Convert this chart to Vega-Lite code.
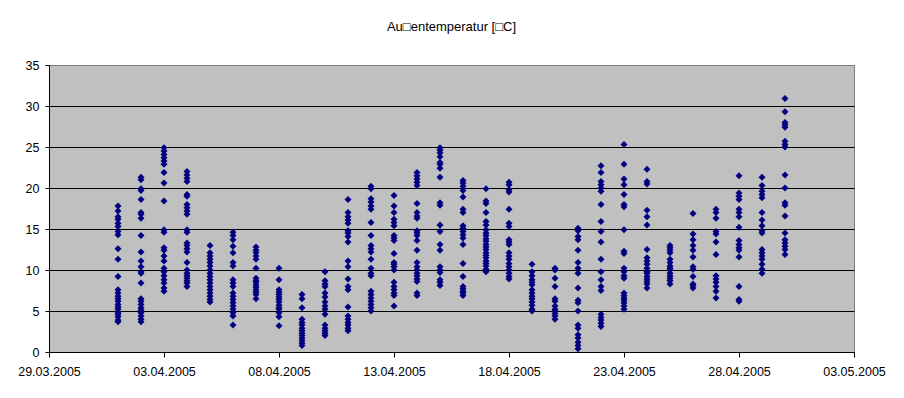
{
 "$schema": "https://vega.github.io/schema/vega-lite/v6.json",
 "width": 805, "height": 287,
 "autosize": {"type": "none"},
 "padding": {"left": 49, "top": 65, "right": 50, "bottom": 46},
 "background": "white",
 "title": {"text": "Au□entemperatur [□C]", "font": "Liberation Sans", "fontSize": 13, "fontWeight": "normal", "color": "black", "offset": 25, "anchor": "middle"},
 "config": {
  "view": {"fill": "#C0C0C0", "stroke": "#808080", "strokeWidth": 1},
  "axis": {"labelFont": "Liberation Sans", "labelFontSize": 12.5, "labelColor": "black", "domainColor": "black", "tickColor": "black", "domainWidth": 1, "tickWidth": 1, "labelFlush": false, "labelOverlap": false, "labelBound": false, "title": null}
 },
 "datasets": {"temps": [
{"d":"2005-04-01","t":17.8},{"d":"2005-04-01","t":17.2},{"d":"2005-04-01","t":16.5},{"d":"2005-04-01","t":16.2},{"d":"2005-04-01","t":15.7},{"d":"2005-04-01","t":15.3},{"d":"2005-04-01","t":14.7},{"d":"2005-04-01","t":14.3},{"d":"2005-04-01","t":12.6},{"d":"2005-04-01","t":11.3},{"d":"2005-04-01","t":9.2},{"d":"2005-04-01","t":7.6},{"d":"2005-04-01","t":7.2},{"d":"2005-04-01","t":6.8},{"d":"2005-04-01","t":6.5},{"d":"2005-04-01","t":6.2},{"d":"2005-04-01","t":5.8},{"d":"2005-04-01","t":5.5},{"d":"2005-04-01","t":5.2},{"d":"2005-04-01","t":4.8},{"d":"2005-04-01","t":4.6},{"d":"2005-04-01","t":4.3},{"d":"2005-04-01","t":3.9},{"d":"2005-04-01","t":3.7},
{"d":"2005-04-02","t":21.3},{"d":"2005-04-02","t":21.0},{"d":"2005-04-02","t":19.9},{"d":"2005-04-02","t":19.7},{"d":"2005-04-02","t":18.6},{"d":"2005-04-02","t":17.0},{"d":"2005-04-02","t":16.8},{"d":"2005-04-02","t":16.3},{"d":"2005-04-02","t":14.2},{"d":"2005-04-02","t":12.2},{"d":"2005-04-02","t":11.1},{"d":"2005-04-02","t":10.4},{"d":"2005-04-02","t":9.8},{"d":"2005-04-02","t":9.6},{"d":"2005-04-02","t":8.4},{"d":"2005-04-02","t":6.5},{"d":"2005-04-02","t":6.2},{"d":"2005-04-02","t":5.8},{"d":"2005-04-02","t":5.4},{"d":"2005-04-02","t":5.1},{"d":"2005-04-02","t":4.8},{"d":"2005-04-02","t":4.4},{"d":"2005-04-02","t":4.0},{"d":"2005-04-02","t":3.7},
{"d":"2005-04-03","t":24.9},{"d":"2005-04-03","t":24.5},{"d":"2005-04-03","t":24.1},{"d":"2005-04-03","t":23.7},{"d":"2005-04-03","t":23.3},{"d":"2005-04-03","t":22.9},{"d":"2005-04-03","t":21.9},{"d":"2005-04-03","t":20.6},{"d":"2005-04-03","t":18.4},{"d":"2005-04-03","t":14.9},{"d":"2005-04-03","t":14.6},{"d":"2005-04-03","t":12.7},{"d":"2005-04-03","t":12.4},{"d":"2005-04-03","t":11.7},{"d":"2005-04-03","t":11.1},{"d":"2005-04-03","t":10.2},{"d":"2005-04-03","t":9.8},{"d":"2005-04-03","t":9.3},{"d":"2005-04-03","t":8.8},{"d":"2005-04-03","t":8.4},{"d":"2005-04-03","t":7.8},{"d":"2005-04-03","t":7.4},
{"d":"2005-04-04","t":22.0},{"d":"2005-04-04","t":21.6},{"d":"2005-04-04","t":21.2},{"d":"2005-04-04","t":20.8},{"d":"2005-04-04","t":19.2},{"d":"2005-04-04","t":19.0},{"d":"2005-04-04","t":18.0},{"d":"2005-04-04","t":17.6},{"d":"2005-04-04","t":17.2},{"d":"2005-04-04","t":16.8},{"d":"2005-04-04","t":14.9},{"d":"2005-04-04","t":14.6},{"d":"2005-04-04","t":13.3},{"d":"2005-04-04","t":13.0},{"d":"2005-04-04","t":12.6},{"d":"2005-04-04","t":12.2},{"d":"2005-04-04","t":10.9},{"d":"2005-04-04","t":10.0},{"d":"2005-04-04","t":9.6},{"d":"2005-04-04","t":9.3},{"d":"2005-04-04","t":9.0},{"d":"2005-04-04","t":8.7},{"d":"2005-04-04","t":8.4},{"d":"2005-04-04","t":8.0},
{"d":"2005-04-05","t":13.0},{"d":"2005-04-05","t":12.1},{"d":"2005-04-05","t":11.7},{"d":"2005-04-05","t":11.3},{"d":"2005-04-05","t":10.9},{"d":"2005-04-05","t":10.5},{"d":"2005-04-05","t":10.0},{"d":"2005-04-05","t":9.6},{"d":"2005-04-05","t":9.2},{"d":"2005-04-05","t":8.8},{"d":"2005-04-05","t":8.4},{"d":"2005-04-05","t":8.0},{"d":"2005-04-05","t":7.6},{"d":"2005-04-05","t":7.2},{"d":"2005-04-05","t":6.8},{"d":"2005-04-05","t":6.4},{"d":"2005-04-05","t":6.1},
{"d":"2005-04-06","t":14.6},{"d":"2005-04-06","t":14.2},{"d":"2005-04-06","t":13.7},{"d":"2005-04-06","t":12.9},{"d":"2005-04-06","t":12.1},{"d":"2005-04-06","t":10.9},{"d":"2005-04-06","t":10.5},{"d":"2005-04-06","t":8.8},{"d":"2005-04-06","t":8.4},{"d":"2005-04-06","t":8.0},{"d":"2005-04-06","t":7.2},{"d":"2005-04-06","t":6.8},{"d":"2005-04-06","t":6.4},{"d":"2005-04-06","t":6.0},{"d":"2005-04-06","t":5.6},{"d":"2005-04-06","t":5.2},{"d":"2005-04-06","t":4.8},{"d":"2005-04-06","t":4.4},{"d":"2005-04-06","t":3.3},
{"d":"2005-04-07","t":12.8},{"d":"2005-04-07","t":12.4},{"d":"2005-04-07","t":12.1},{"d":"2005-04-07","t":11.7},{"d":"2005-04-07","t":11.3},{"d":"2005-04-07","t":10.2},{"d":"2005-04-07","t":9.0},{"d":"2005-04-07","t":8.7},{"d":"2005-04-07","t":8.5},{"d":"2005-04-07","t":8.2},{"d":"2005-04-07","t":7.9},{"d":"2005-04-07","t":7.6},{"d":"2005-04-07","t":7.3},{"d":"2005-04-07","t":7.0},{"d":"2005-04-07","t":6.5},
{"d":"2005-04-08","t":10.2},{"d":"2005-04-08","t":8.8},{"d":"2005-04-08","t":7.6},{"d":"2005-04-08","t":7.3},{"d":"2005-04-08","t":7.0},{"d":"2005-04-08","t":6.7},{"d":"2005-04-08","t":6.4},{"d":"2005-04-08","t":6.1},{"d":"2005-04-08","t":5.7},{"d":"2005-04-08","t":5.4},{"d":"2005-04-08","t":5.2},{"d":"2005-04-08","t":4.8},{"d":"2005-04-08","t":4.3},{"d":"2005-04-08","t":3.2},
{"d":"2005-04-09","t":7.0},{"d":"2005-04-09","t":6.5},{"d":"2005-04-09","t":5.4},{"d":"2005-04-09","t":4.0},{"d":"2005-04-09","t":3.6},{"d":"2005-04-09","t":3.3},{"d":"2005-04-09","t":2.9},{"d":"2005-04-09","t":2.6},{"d":"2005-04-09","t":2.3},{"d":"2005-04-09","t":2.0},{"d":"2005-04-09","t":1.7},{"d":"2005-04-09","t":1.4},{"d":"2005-04-09","t":1.1},{"d":"2005-04-09","t":0.8},
{"d":"2005-04-10","t":9.8},{"d":"2005-04-10","t":8.7},{"d":"2005-04-10","t":8.3},{"d":"2005-04-10","t":8.0},{"d":"2005-04-10","t":7.2},{"d":"2005-04-10","t":6.7},{"d":"2005-04-10","t":6.1},{"d":"2005-04-10","t":5.6},{"d":"2005-04-10","t":5.2},{"d":"2005-04-10","t":4.6},{"d":"2005-04-10","t":3.3},{"d":"2005-04-10","t":2.9},{"d":"2005-04-10","t":2.6},{"d":"2005-04-10","t":2.3},{"d":"2005-04-10","t":2.0},
{"d":"2005-04-11","t":18.6},{"d":"2005-04-11","t":17.0},{"d":"2005-04-11","t":16.5},{"d":"2005-04-11","t":16.1},{"d":"2005-04-11","t":15.7},{"d":"2005-04-11","t":14.8},{"d":"2005-04-11","t":14.5},{"d":"2005-04-11","t":14.1},{"d":"2005-04-11","t":13.4},{"d":"2005-04-11","t":11.1},{"d":"2005-04-11","t":10.4},{"d":"2005-04-11","t":8.9},{"d":"2005-04-11","t":8.0},{"d":"2005-04-11","t":7.6},{"d":"2005-04-11","t":5.5},{"d":"2005-04-11","t":4.4},{"d":"2005-04-11","t":4.0},{"d":"2005-04-11","t":3.6},{"d":"2005-04-11","t":3.3},{"d":"2005-04-11","t":2.9},{"d":"2005-04-11","t":2.6},
{"d":"2005-04-12","t":20.2},{"d":"2005-04-12","t":19.9},{"d":"2005-04-12","t":18.7},{"d":"2005-04-12","t":18.3},{"d":"2005-04-12","t":17.8},{"d":"2005-04-12","t":17.4},{"d":"2005-04-12","t":15.8},{"d":"2005-04-12","t":14.2},{"d":"2005-04-12","t":13.0},{"d":"2005-04-12","t":12.6},{"d":"2005-04-12","t":12.2},{"d":"2005-04-12","t":11.3},{"d":"2005-04-12","t":10.2},{"d":"2005-04-12","t":9.6},{"d":"2005-04-12","t":9.3},{"d":"2005-04-12","t":7.4},{"d":"2005-04-12","t":7.0},{"d":"2005-04-12","t":6.6},{"d":"2005-04-12","t":6.2},{"d":"2005-04-12","t":5.8},{"d":"2005-04-12","t":5.4},{"d":"2005-04-12","t":5.0},
{"d":"2005-04-13","t":19.1},{"d":"2005-04-13","t":17.8},{"d":"2005-04-13","t":17.0},{"d":"2005-04-13","t":16.2},{"d":"2005-04-13","t":15.8},{"d":"2005-04-13","t":15.4},{"d":"2005-04-13","t":14.2},{"d":"2005-04-13","t":13.9},{"d":"2005-04-13","t":13.6},{"d":"2005-04-13","t":12.0},{"d":"2005-04-13","t":10.9},{"d":"2005-04-13","t":10.7},{"d":"2005-04-13","t":10.4},{"d":"2005-04-13","t":10.0},{"d":"2005-04-13","t":8.5},{"d":"2005-04-13","t":8.0},{"d":"2005-04-13","t":7.6},{"d":"2005-04-13","t":7.2},{"d":"2005-04-13","t":6.9},{"d":"2005-04-13","t":5.6},
{"d":"2005-04-14","t":21.9},{"d":"2005-04-14","t":21.5},{"d":"2005-04-14","t":21.1},{"d":"2005-04-14","t":20.7},{"d":"2005-04-14","t":20.3},{"d":"2005-04-14","t":18.1},{"d":"2005-04-14","t":17.0},{"d":"2005-04-14","t":16.6},{"d":"2005-04-14","t":16.3},{"d":"2005-04-14","t":14.8},{"d":"2005-04-14","t":14.5},{"d":"2005-04-14","t":14.2},{"d":"2005-04-14","t":13.6},{"d":"2005-04-14","t":12.4},{"d":"2005-04-14","t":10.9},{"d":"2005-04-14","t":10.4},{"d":"2005-04-14","t":10.0},{"d":"2005-04-14","t":9.6},{"d":"2005-04-14","t":9.3},{"d":"2005-04-14","t":8.9},{"d":"2005-04-14","t":8.6},{"d":"2005-04-14","t":7.2},{"d":"2005-04-14","t":6.9},
{"d":"2005-04-15","t":24.9},{"d":"2005-04-15","t":24.6},{"d":"2005-04-15","t":24.3},{"d":"2005-04-15","t":23.8},{"d":"2005-04-15","t":23.1},{"d":"2005-04-15","t":22.9},{"d":"2005-04-15","t":22.4},{"d":"2005-04-15","t":21.3},{"d":"2005-04-15","t":18.2},{"d":"2005-04-15","t":17.9},{"d":"2005-04-15","t":15.5},{"d":"2005-04-15","t":14.7},{"d":"2005-04-15","t":13.1},{"d":"2005-04-15","t":12.4},{"d":"2005-04-15","t":10.4},{"d":"2005-04-15","t":10.0},{"d":"2005-04-15","t":9.7},{"d":"2005-04-15","t":8.8},{"d":"2005-04-15","t":8.5},{"d":"2005-04-15","t":8.1},
{"d":"2005-04-16","t":20.9},{"d":"2005-04-16","t":20.6},{"d":"2005-04-16","t":20.2},{"d":"2005-04-16","t":19.7},{"d":"2005-04-16","t":18.9},{"d":"2005-04-16","t":17.4},{"d":"2005-04-16","t":17.0},{"d":"2005-04-16","t":15.4},{"d":"2005-04-16","t":15.1},{"d":"2005-04-16","t":14.7},{"d":"2005-04-16","t":14.3},{"d":"2005-04-16","t":13.9},{"d":"2005-04-16","t":13.1},{"d":"2005-04-16","t":10.8},{"d":"2005-04-16","t":9.2},{"d":"2005-04-16","t":8.0},{"d":"2005-04-16","t":7.7},{"d":"2005-04-16","t":7.4},{"d":"2005-04-16","t":7.2},{"d":"2005-04-16","t":6.9},
{"d":"2005-04-17","t":19.9},{"d":"2005-04-17","t":18.4},{"d":"2005-04-17","t":18.1},{"d":"2005-04-17","t":17.0},{"d":"2005-04-17","t":15.9},{"d":"2005-04-17","t":15.5},{"d":"2005-04-17","t":14.9},{"d":"2005-04-17","t":14.5},{"d":"2005-04-17","t":14.2},{"d":"2005-04-17","t":13.8},{"d":"2005-04-17","t":13.5},{"d":"2005-04-17","t":13.1},{"d":"2005-04-17","t":12.8},{"d":"2005-04-17","t":12.5},{"d":"2005-04-17","t":12.1},{"d":"2005-04-17","t":11.8},{"d":"2005-04-17","t":11.5},{"d":"2005-04-17","t":11.1},{"d":"2005-04-17","t":10.8},{"d":"2005-04-17","t":10.5},{"d":"2005-04-17","t":10.1},{"d":"2005-04-17","t":9.8},
{"d":"2005-04-18","t":20.7},{"d":"2005-04-18","t":20.4},{"d":"2005-04-18","t":19.8},{"d":"2005-04-18","t":19.5},{"d":"2005-04-18","t":17.4},{"d":"2005-04-18","t":15.7},{"d":"2005-04-18","t":15.3},{"d":"2005-04-18","t":13.7},{"d":"2005-04-18","t":13.4},{"d":"2005-04-18","t":13.1},{"d":"2005-04-18","t":12.1},{"d":"2005-04-18","t":11.7},{"d":"2005-04-18","t":11.3},{"d":"2005-04-18","t":10.8},{"d":"2005-04-18","t":10.4},{"d":"2005-04-18","t":10.0},{"d":"2005-04-18","t":9.6},{"d":"2005-04-18","t":9.2},{"d":"2005-04-18","t":8.9},
{"d":"2005-04-19","t":10.7},{"d":"2005-04-19","t":9.8},{"d":"2005-04-19","t":9.3},{"d":"2005-04-19","t":8.8},{"d":"2005-04-19","t":8.5},{"d":"2005-04-19","t":8.2},{"d":"2005-04-19","t":7.6},{"d":"2005-04-19","t":7.2},{"d":"2005-04-19","t":6.8},{"d":"2005-04-19","t":6.5},{"d":"2005-04-19","t":6.1},{"d":"2005-04-19","t":5.7},{"d":"2005-04-19","t":5.2},{"d":"2005-04-19","t":5.0},
{"d":"2005-04-20","t":10.2},{"d":"2005-04-20","t":10.0},{"d":"2005-04-20","t":9.0},{"d":"2005-04-20","t":8.0},{"d":"2005-04-20","t":6.5},{"d":"2005-04-20","t":6.2},{"d":"2005-04-20","t":5.6},{"d":"2005-04-20","t":5.2},{"d":"2005-04-20","t":5.0},{"d":"2005-04-20","t":4.7},{"d":"2005-04-20","t":4.4},{"d":"2005-04-20","t":4.0},
{"d":"2005-04-21","t":15.1},{"d":"2005-04-21","t":14.8},{"d":"2005-04-21","t":14.1},{"d":"2005-04-21","t":13.7},{"d":"2005-04-21","t":12.4},{"d":"2005-04-21","t":10.9},{"d":"2005-04-21","t":10.2},{"d":"2005-04-21","t":9.6},{"d":"2005-04-21","t":7.8},{"d":"2005-04-21","t":6.3},{"d":"2005-04-21","t":6.0},{"d":"2005-04-21","t":5.0},{"d":"2005-04-21","t":3.3},{"d":"2005-04-21","t":2.9},{"d":"2005-04-21","t":2.1},{"d":"2005-04-21","t":1.7},{"d":"2005-04-21","t":1.2},{"d":"2005-04-21","t":0.8},{"d":"2005-04-21","t":0.4},
{"d":"2005-04-22","t":22.7},{"d":"2005-04-22","t":21.9},{"d":"2005-04-22","t":20.8},{"d":"2005-04-22","t":20.4},{"d":"2005-04-22","t":20.0},{"d":"2005-04-22","t":19.6},{"d":"2005-04-22","t":18.0},{"d":"2005-04-22","t":15.9},{"d":"2005-04-22","t":14.7},{"d":"2005-04-22","t":13.4},{"d":"2005-04-22","t":11.3},{"d":"2005-04-22","t":9.8},{"d":"2005-04-22","t":8.8},{"d":"2005-04-22","t":8.0},{"d":"2005-04-22","t":7.5},{"d":"2005-04-22","t":4.6},{"d":"2005-04-22","t":4.2},{"d":"2005-04-22","t":3.9},{"d":"2005-04-22","t":3.5},{"d":"2005-04-22","t":3.1},
{"d":"2005-04-23","t":25.3},{"d":"2005-04-23","t":22.9},{"d":"2005-04-23","t":21.1},{"d":"2005-04-23","t":20.4},{"d":"2005-04-23","t":19.2},{"d":"2005-04-23","t":18.0},{"d":"2005-04-23","t":17.7},{"d":"2005-04-23","t":14.9},{"d":"2005-04-23","t":12.3},{"d":"2005-04-23","t":12.0},{"d":"2005-04-23","t":10.2},{"d":"2005-04-23","t":9.8},{"d":"2005-04-23","t":9.3},{"d":"2005-04-23","t":9.0},{"d":"2005-04-23","t":7.2},{"d":"2005-04-23","t":6.9},{"d":"2005-04-23","t":6.6},{"d":"2005-04-23","t":6.3},{"d":"2005-04-23","t":6.0},{"d":"2005-04-23","t":5.6},{"d":"2005-04-23","t":5.2},
{"d":"2005-04-24","t":22.3},{"d":"2005-04-24","t":20.8},{"d":"2005-04-24","t":20.5},{"d":"2005-04-24","t":17.3},{"d":"2005-04-24","t":16.5},{"d":"2005-04-24","t":15.5},{"d":"2005-04-24","t":12.5},{"d":"2005-04-24","t":11.5},{"d":"2005-04-24","t":11.1},{"d":"2005-04-24","t":10.7},{"d":"2005-04-24","t":10.2},{"d":"2005-04-24","t":9.8},{"d":"2005-04-24","t":9.6},{"d":"2005-04-24","t":9.2},{"d":"2005-04-24","t":8.9},{"d":"2005-04-24","t":8.6},{"d":"2005-04-24","t":8.3},{"d":"2005-04-24","t":7.8},
{"d":"2005-04-25","t":13.0},{"d":"2005-04-25","t":12.7},{"d":"2005-04-25","t":12.4},{"d":"2005-04-25","t":12.1},{"d":"2005-04-25","t":11.3},{"d":"2005-04-25","t":10.9},{"d":"2005-04-25","t":10.5},{"d":"2005-04-25","t":10.2},{"d":"2005-04-25","t":10.0},{"d":"2005-04-25","t":9.6},{"d":"2005-04-25","t":9.3},{"d":"2005-04-25","t":9.0},{"d":"2005-04-25","t":8.7},{"d":"2005-04-25","t":8.3},
{"d":"2005-04-26","t":16.9},{"d":"2005-04-26","t":14.4},{"d":"2005-04-26","t":13.7},{"d":"2005-04-26","t":13.0},{"d":"2005-04-26","t":12.4},{"d":"2005-04-26","t":11.6},{"d":"2005-04-26","t":10.4},{"d":"2005-04-26","t":10.1},{"d":"2005-04-26","t":9.2},{"d":"2005-04-26","t":8.3},{"d":"2005-04-26","t":8.1},{"d":"2005-04-26","t":7.8},
{"d":"2005-04-27","t":17.4},{"d":"2005-04-27","t":17.0},{"d":"2005-04-27","t":16.3},{"d":"2005-04-27","t":14.7},{"d":"2005-04-27","t":14.4},{"d":"2005-04-27","t":13.4},{"d":"2005-04-27","t":11.9},{"d":"2005-04-27","t":9.3},{"d":"2005-04-27","t":8.9},{"d":"2005-04-27","t":8.5},{"d":"2005-04-27","t":8.0},{"d":"2005-04-27","t":7.4},{"d":"2005-04-27","t":6.6},
{"d":"2005-04-28","t":21.5},{"d":"2005-04-28","t":19.4},{"d":"2005-04-28","t":19.0},{"d":"2005-04-28","t":18.6},{"d":"2005-04-28","t":17.4},{"d":"2005-04-28","t":17.0},{"d":"2005-04-28","t":16.5},{"d":"2005-04-28","t":15.2},{"d":"2005-04-28","t":13.6},{"d":"2005-04-28","t":13.1},{"d":"2005-04-28","t":12.7},{"d":"2005-04-28","t":12.4},{"d":"2005-04-28","t":11.6},{"d":"2005-04-28","t":8.0},{"d":"2005-04-28","t":6.4},{"d":"2005-04-28","t":6.2},
{"d":"2005-04-29","t":21.3},{"d":"2005-04-29","t":20.3},{"d":"2005-04-29","t":19.6},{"d":"2005-04-29","t":19.2},{"d":"2005-04-29","t":18.8},{"d":"2005-04-29","t":17.0},{"d":"2005-04-29","t":16.1},{"d":"2005-04-29","t":15.4},{"d":"2005-04-29","t":14.8},{"d":"2005-04-29","t":14.5},{"d":"2005-04-29","t":12.5},{"d":"2005-04-29","t":12.1},{"d":"2005-04-29","t":11.7},{"d":"2005-04-29","t":11.3},{"d":"2005-04-29","t":10.7},{"d":"2005-04-29","t":10.1},{"d":"2005-04-29","t":9.6},
{"d":"2005-04-30","t":30.9},{"d":"2005-04-30","t":29.3},{"d":"2005-04-30","t":28.0},{"d":"2005-04-30","t":27.7},{"d":"2005-04-30","t":27.4},{"d":"2005-04-30","t":25.7},{"d":"2005-04-30","t":25.3},{"d":"2005-04-30","t":25.0},{"d":"2005-04-30","t":21.6},{"d":"2005-04-30","t":20.0},{"d":"2005-04-30","t":18.2},{"d":"2005-04-30","t":17.9},{"d":"2005-04-30","t":16.6},{"d":"2005-04-30","t":14.5},{"d":"2005-04-30","t":13.7},{"d":"2005-04-30","t":13.3},{"d":"2005-04-30","t":12.9},{"d":"2005-04-30","t":12.5},{"d":"2005-04-30","t":11.9}
 ]},
 "data": {"name": "temps"},
 "mark": {"type": "point", "shape": "diamond", "filled": true, "size": 49, "color": "#000080", "opacity": 1},
 "encoding": {
  "x": {"field": "d", "type": "temporal",
   "scale": {"type": "utc", "domain": [{"year": 2005, "month": "mar", "date": 29, "utc": true}, {"year": 2005, "month": "may", "date": 3, "utc": true}]},
   "axis": {"values": [{"year": 2005, "month": "mar", "date": 29, "utc": true}, {"year": 2005, "month": "apr", "date": 3, "utc": true}, {"year": 2005, "month": "apr", "date": 8, "utc": true}, {"year": 2005, "month": "apr", "date": 13, "utc": true}, {"year": 2005, "month": "apr", "date": 18, "utc": true}, {"year": 2005, "month": "apr", "date": 23, "utc": true}, {"year": 2005, "month": "apr", "date": 28, "utc": true}, {"year": 2005, "month": "may", "date": 3, "utc": true}],
    "labelExpr": "utcFormat(datum.value, '%d.%m.%Y')", "grid": false, "tickSize": 5, "labelPadding": 8}},
  "y": {"field": "t", "type": "quantitative",
   "scale": {"domain": [0, 35], "nice": false, "zero": true},
   "axis": {"values": [0, 5, 10, 15, 20, 25, 30, 35], "grid": true, "gridColor": {"condition": {"test": "datum.value === 35", "value": "#808080"}, "value": "black"}, "gridOpacity": 1, "gridWidth": 1, "tickSize": 4, "labelPadding": 6}}
 }
}
